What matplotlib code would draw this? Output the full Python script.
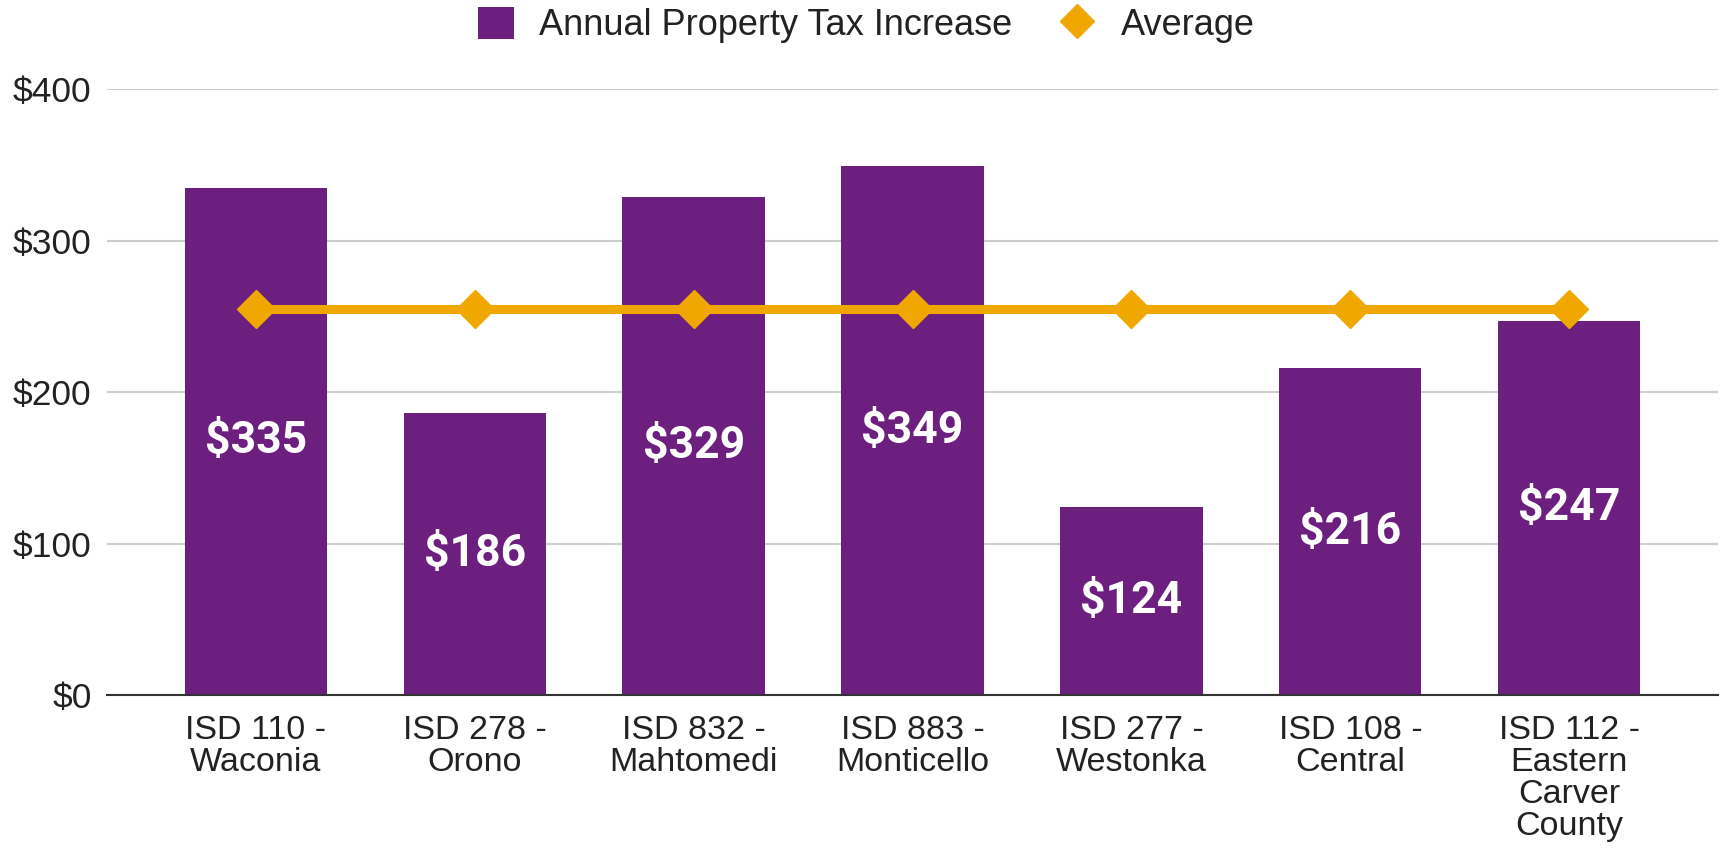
import matplotlib
matplotlib.use("Agg")
import matplotlib.pyplot as plt
from matplotlib.lines import Line2D
from matplotlib.patches import Patch

categories = ["ISD 110 -\nWaconia", "ISD 278 -\nOrono", "ISD 832 -\nMahtomedi",
              "ISD 883 -\nMonticello", "ISD 277 -\nWestonka", "ISD 108 -\nCentral",
              "ISD 112 -\nEastern\nCarver\nCounty"]
tax_increase = [335, 186, 329, 349, 124, 216, 247]
average = [255, 255, 255, 255, 255, 255, 255]
yticks = [0, 100, 200, 300, 400]
ytick_labels = ["$0", "$100", "$200", "$300", "$400"]

PURPLE = "#6D1F80"
ORANGE = "#F0A800"

plt.rcParams['font.family'] = ['Liberation Sans', 'DejaVu Sans']

fig = plt.figure(figsize=(17.25, 8.52), dpi=100)
ax = fig.add_axes([0.062, 0.184, 0.934, 0.7115])

x = list(range(len(categories)))
ax.bar(x, tax_increase, width=0.65, color=PURPLE, zorder=2)
ax.plot(x, average, color=ORANGE, lw=6.5, marker='D', markersize=19, zorder=3)

for xi, v in zip(x, tax_increase):
    ax.text(xi, v / 2, f"${v}", ha='center', va='center', color='white',
            fontsize=32, fontweight='bold', family=['Roboto', 'DejaVu Sans'], zorder=4)

ax.set_xlim(-0.68, len(categories) - 1 + 0.68)
ax.set_ylim(0, 400)
ax.set_yticks(yticks)
ax.set_yticklabels(ytick_labels, fontsize=25.5)
ax.set_xticks(x)
ax.set_xticklabels(categories, linespacing=1.04, fontsize=24.5)
ax.tick_params(axis='both', length=0, colors='#222222')
ax.tick_params(axis='y', pad=11)
ax.tick_params(axis='x', pad=14)
ax.grid(axis='y', color='#CCCCCC', lw=1.5, zorder=0)
ax.set_axisbelow(True)
for s in ['top', 'right', 'left']:
    ax.spines[s].set_visible(False)
ax.spines['bottom'].set_color('#333333')
ax.spines['bottom'].set_linewidth(1.5)
ax.spines['bottom'].set_zorder(5)

handles = [Patch(facecolor=PURPLE, label="Annual Property Tax Increase"),
           Line2D([], [], color=ORANGE, marker='D', lw=0, markersize=17, label="Average")]
fig.legend(handles=handles, loc='upper center', bbox_to_anchor=(0.502, 1.03), ncol=2,
           frameon=False, fontsize=26, handlelength=1.0, handleheight=1.0,
           columnspacing=1.3, handletextpad=0.7, labelcolor='#222222')

fig.savefig("out.png", dpi=100)
